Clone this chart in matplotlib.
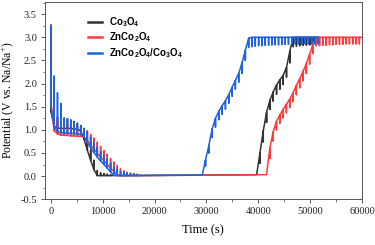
import matplotlib
matplotlib.use("Agg")
import matplotlib.pyplot as plt
from matplotlib.ticker import MultipleLocator

plt.rcParams['mathtext.fontset'] = 'custom'
plt.rcParams['mathtext.rm'] = 'Liberation Serif'
plt.rcParams['mathtext.bf'] = 'Liberation Sans:bold'
plt.rcParams['axes.unicode_minus'] = False
plt.rcParams['font.family'] = 'Liberation Serif'

# GITT data: step time (s), closed-circuit potential, relaxed potential (V)
# --- Co3O4 ---
co_dis_t = [0, 640, 1280, 1920, 2560, 3200, 3840, 4480, 5120, 5760, 6400, 7040, 7680, 8320,
            8960, 9600, 10240, 10880, 11520]
co_dis_ccv = [1.40, 1.08, 1.04, 1.03, 1.03, 1.03, 1.03, 1.02, 1.01, 0.98, 0.80, 0.56, 0.34, 0.14,
              0.01, 0.01, 0.01, 0.01, 0.01]
co_dis_ocv = [2.05, 1.45, 1.28, 1.26, 1.25, 1.24, 1.21, 1.18, 1.14, 1.09, 0.98, 0.80, 0.56, 0.34,
              0.12, 0.07, 0.05, 0.04, 0.03]
co_chg_t = [39700, 40340, 40980, 41620, 42260, 42900, 43540, 44180, 44820, 45460, 46100, 46740,
            47380, 48020, 48660, 49300, 49940, 50580, 51220]
co_chg_ccv = [0.03, 0.50, 0.98, 1.38, 1.64, 1.82, 1.97, 2.08, 2.18, 2.35, 2.70, 3.00,
              3.00, 3.00, 3.00, 3.00, 3.00, 3.00, 3.00]
co_chg_ocv = [0.03, 0.28, 0.74, 1.16, 1.44, 1.62, 1.77, 1.88, 1.98, 2.14, 2.45, 2.80,
              2.81, 2.82, 2.83, 2.83, 2.84, 2.84, 2.85]

# --- ZnCo2O4 ---
zn_dis_t = [0, 640, 1280, 1920, 2560, 3200, 3840, 4480, 5120, 5760, 6400, 7040, 7680, 8320,
            8960, 9600, 10240, 10880, 11520, 12160, 12800, 13440, 14080, 14720, 15360, 16000,
            16640, 17280]
zn_dis_ccv = [1.60, 0.98, 0.91, 0.89, 0.88, 0.88, 0.87, 0.87, 0.86, 0.86, 0.84, 0.77, 0.67, 0.58,
              0.49, 0.41, 0.33, 0.25, 0.17, 0.10, 0.03, 0.01, 0.01, 0.01, 0.01, 0.01, 0.01, 0.01]
zn_dis_ocv = [3.27, 1.40, 1.22, 1.16, 1.13, 1.11, 1.09, 1.07, 1.05, 1.03, 1.01, 0.98, 0.90, 0.82,
              0.73, 0.64, 0.55, 0.47, 0.38, 0.30, 0.22, 0.15, 0.11, 0.08, 0.06, 0.05, 0.04, 0.03]
zn_chg_t = [41600, 42240, 42880, 43520, 44160, 44800, 45440, 46080, 46720, 47360, 48000, 48640,
            49280, 49920, 50560, 51200, 51840, 52480, 53120, 53760, 54400, 55040, 55680, 56320,
            56960, 57600, 58240, 58880, 59520, 60000]
zn_chg_ccv = [0.03, 0.60, 0.95, 1.18, 1.32, 1.44, 1.55, 1.66, 1.80, 1.96, 2.10, 2.26,
              2.43, 2.63, 2.86, 3.00, 3.00, 3.00, 3.00, 3.00, 3.00, 3.00, 3.00, 3.00,
              3.00, 3.00, 3.00, 3.00, 3.00, 3.00]
zn_chg_ocv = [0.03, 0.38, 0.76, 1.00, 1.14, 1.26, 1.37, 1.48, 1.61, 1.76, 1.91, 2.06,
              2.22, 2.42, 2.65, 2.82, 2.82, 2.83, 2.83, 2.84, 2.84, 2.85, 2.85, 2.85,
              2.86, 2.86, 2.86, 2.86, 2.86, 3.00]

# --- ZnCo2O4/Co3O4 ---
zc_dis_t = [0, 640, 1280, 1920, 2560, 3200, 3840, 4480, 5120, 5760, 6400, 7040, 7680, 8320,
            8960, 9600, 10240, 10880, 11520, 12160, 12800, 13440, 14080, 14720, 15360, 16000,
            16640]
zc_dis_ccv = [1.55, 1.05, 0.96, 0.94, 0.93, 0.93, 0.92, 0.92, 0.91, 0.90, 0.86, 0.72, 0.61, 0.51,
              0.41, 0.33, 0.25, 0.17, 0.09, 0.02, 0.01, 0.01, 0.01, 0.01, 0.01, 0.01, 0.01]
zc_dis_ocv = [3.25, 2.16, 1.80, 1.57, 1.25, 1.24, 1.21, 1.15, 1.10, 1.06, 1.03, 0.95, 0.84, 0.73,
              0.62, 0.53, 0.44, 0.36, 0.28, 0.20, 0.14, 0.10, 0.08, 0.06, 0.05, 0.04, 0.03]
zc_chg_t = [29200, 29840, 30480, 31120, 31760, 32400, 33040, 33680, 34320, 34960, 35600, 36240,
            36880, 37520, 38160, 38800, 39440, 40080, 40720, 41360, 42000, 42640, 43280, 43920,
            44560, 45200, 45840, 46480, 47120, 47760, 48400, 49040, 49680, 50320, 50960, 51600]
zc_chg_ccv = [0.02, 0.35, 0.66, 1.02, 1.25, 1.40, 1.52, 1.63, 1.76, 1.92, 2.07, 2.22,
              2.45, 2.72, 2.98, 3.00, 3.00, 3.00, 3.00, 3.00, 3.00, 3.00, 3.00, 3.00,
              3.00, 3.00, 3.00, 3.00, 3.00, 3.00, 3.00, 3.00, 3.00, 3.00, 3.00, 3.00]
zc_chg_ocv = [0.02, 0.22, 0.50, 0.84, 1.06, 1.22, 1.34, 1.45, 1.58, 1.73, 1.88, 2.03,
              2.22, 2.50, 2.78, 2.80, 2.81, 2.82, 2.82, 2.83, 2.83, 2.84, 2.84, 2.84,
              2.85, 2.85, 2.85, 2.86, 2.86, 2.86, 2.86, 2.86, 2.86, 2.86, 2.86, 2.86]

labels = [r'$\mathbf{Co_3O_4}$', r'$\mathbf{ZnCo_2O_4}$', r'$\mathbf{ZnCo_2O_4/Co_3O_4}$']
colors = ['#333333', '#ff3b3b', '#1f62e0']


def gitt_path(t, ccv, ocv):
    # each step: closed-circuit value with a vertical relaxation spike
    xs, ys = [], []
    for ti, c, o in zip(t, ccv, ocv):
        xs += [ti, ti, ti]
        ys += [c, o, c]
    return xs, ys


series = [
    (co_dis_t + co_chg_t, co_dis_ccv + co_chg_ccv, co_dis_ocv + co_chg_ocv),
    (zn_dis_t + zn_chg_t, zn_dis_ccv + zn_chg_ccv, zn_dis_ocv + zn_chg_ocv),
    (zc_dis_t + zc_chg_t, zc_dis_ccv + zc_chg_ccv, zc_dis_ocv + zc_chg_ocv),
]

fig = plt.figure(figsize=(3.75, 2.45), dpi=100)
ax = fig.add_axes([0.119, 0.187, 0.846, 0.806])

for (t, c, o), lab, col in zip(series, labels, colors):
    x, y = gitt_path(t, c, o)
    ax.plot(x, y, color=col, lw=1.1, label=lab)

ax.set_xlim(-1200, 60000)
ax.set_ylim(-0.5, 3.77)
ax.xaxis.set_major_locator(MultipleLocator(10000))
ax.xaxis.set_minor_locator(MultipleLocator(5000))
ax.yaxis.set_major_locator(MultipleLocator(0.5))
ax.yaxis.set_minor_locator(MultipleLocator(0.25))
ax.tick_params(which='major', direction='out', length=3, width=0.6, colors='#444444',
               labelsize=7.5, labelcolor='#222222', pad=2.5)
ax.tick_params(which='minor', direction='out', length=1.8, width=0.5, colors='#444444')
for s in ax.spines.values():
    s.set_linewidth(0.7)
    s.set_color('#555555')

ax.set_xlabel('Time (s)', fontsize=9, labelpad=6)
ax.set_ylabel(r'Potential (V vs. Na/Na$^{+}$)', fontsize=8.5, labelpad=3)

leg = ax.legend(loc='upper left', bbox_to_anchor=(0.11, 0.975), frameon=False, fontsize=7.0,
                handlelength=1.45, handletextpad=0.7, labelspacing=0.15)
for h in leg.get_lines():
    h.set_linewidth(1.8)

fig.savefig('out.png', dpi=100)
